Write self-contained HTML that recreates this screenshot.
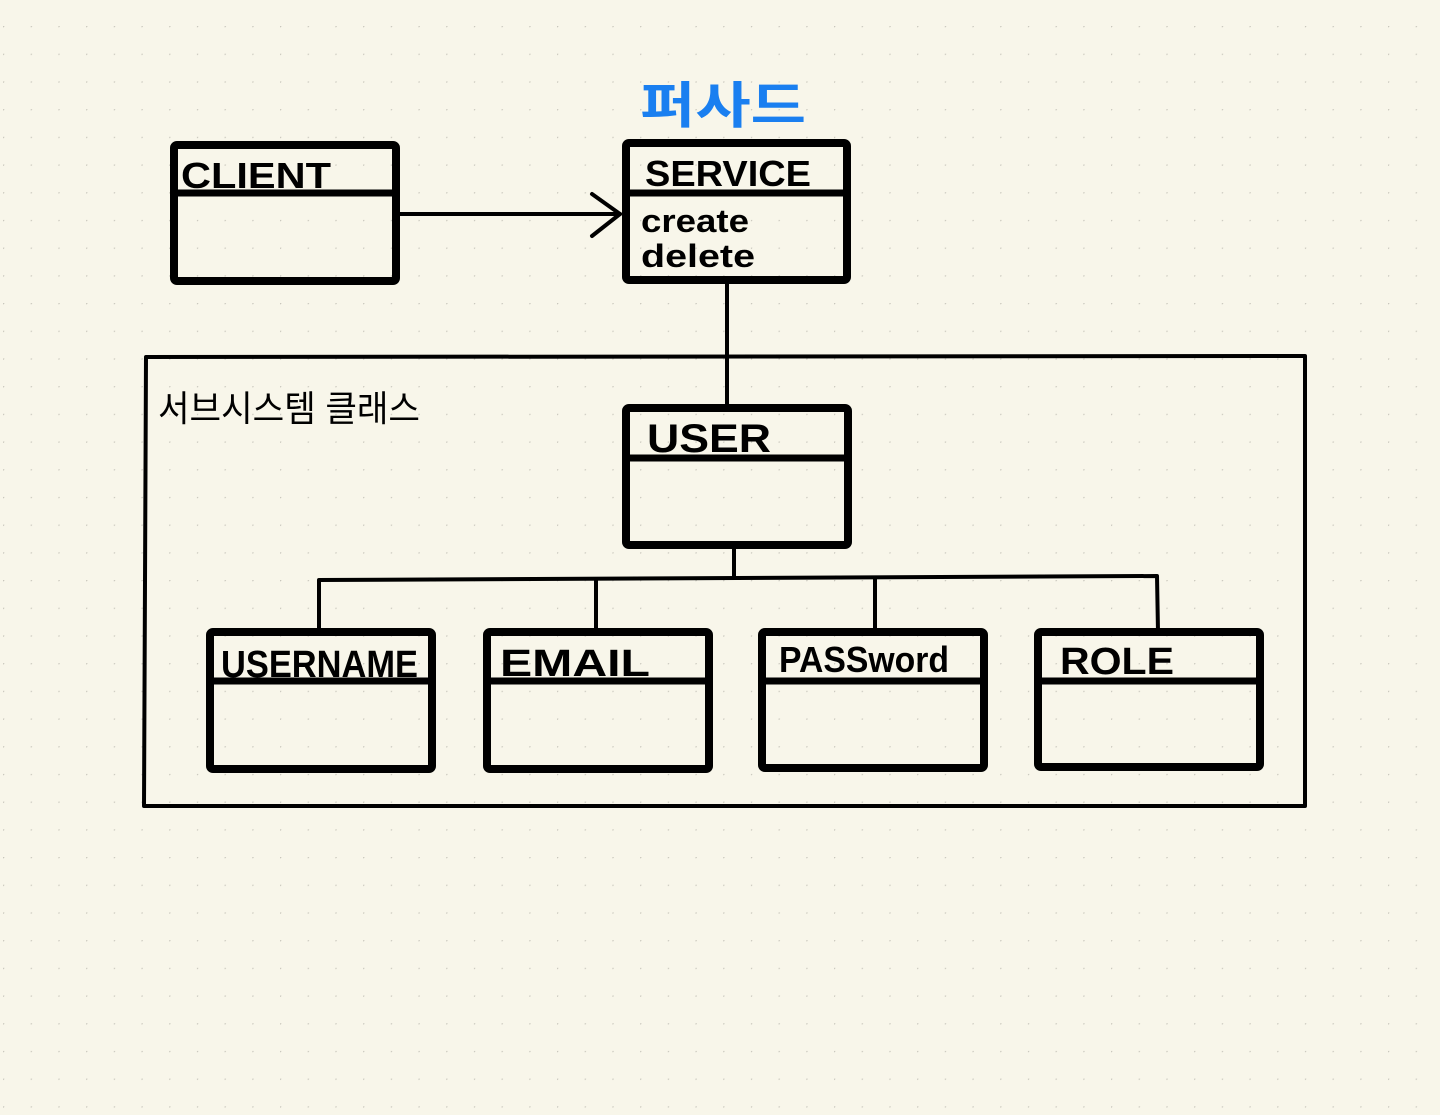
<!DOCTYPE html>
<html><head><meta charset="utf-8"><style>
html,body{margin:0;padding:0;background:#f8f6ea;}
svg{display:block;}
text{font-family:"Liberation Sans","Noto Sans CJK KR",sans-serif;}
</style></head><body>
<svg width="1440" height="1115" viewBox="0 0 1440 1115" xmlns="http://www.w3.org/2000/svg">
<defs>
<pattern id="d" x="3" y="26" width="27.7" height="27.7" patternUnits="userSpaceOnUse">
<circle cx="0" cy="0" r="1.4" fill="#c8c6bc"/>
</pattern>
</defs>
<rect width="1440" height="1115" fill="#f8f6ea"/>
<rect width="1440" height="1115" fill="url(#d)"/>
<g fill="none" stroke="#000" stroke-linejoin="round" stroke-linecap="round">
<!-- client -->
<rect x="174" y="145" width="222" height="136" stroke-width="8" rx="3"/>
<line x1="174" y1="193" x2="396" y2="193" stroke-width="7"/>
<!-- service -->
<rect x="626" y="143" width="221" height="137" stroke-width="8" rx="3"/>
<line x1="626" y1="193" x2="847" y2="193" stroke-width="7"/>
<!-- arrow -->
<line x1="398" y1="214" x2="620" y2="214" stroke-width="4"/>
<polyline points="592,194 620,214 592,236" stroke-width="4"/>
<!-- service to user -->
<line x1="727" y1="282" x2="727" y2="408" stroke-width="4"/>
<!-- container -->
<polyline points="146,357 1305,356 1305,806 144,806 146,357" stroke-width="4"/>
<!-- user -->
<rect x="626" y="408" width="222" height="137" stroke-width="8" rx="3"/>
<line x1="626" y1="458" x2="848" y2="458" stroke-width="7"/>
<!-- tree -->
<line x1="734" y1="547" x2="734" y2="578" stroke-width="4"/>
<polyline points="319,632 319,580 1157,576 1158,632" stroke-width="4"/>
<line x1="596" y1="580" x2="596" y2="632" stroke-width="4"/>
<line x1="875" y1="578" x2="875" y2="632" stroke-width="4"/>
<!-- children -->
<rect x="210" y="632" width="222" height="137" stroke-width="8" rx="3"/>
<line x1="210" y1="681" x2="432" y2="681" stroke-width="7"/>
<rect x="487" y="632" width="222" height="137" stroke-width="8" rx="3"/>
<line x1="487" y1="681" x2="709" y2="681" stroke-width="7"/>
<rect x="762" y="632" width="222" height="136" stroke-width="8" rx="3"/>
<line x1="762" y1="681" x2="984" y2="681" stroke-width="7"/>
<rect x="1038" y="632" width="222" height="135" stroke-width="8" rx="3"/>
<line x1="1038" y1="681" x2="1260" y2="681" stroke-width="7"/>
</g>
<g fill="#000" font-weight="bold">
<text x="181" y="188" font-size="36" textLength="150" lengthAdjust="spacingAndGlyphs">CLIENT</text>
<text x="645" y="186" font-size="36" textLength="166" lengthAdjust="spacingAndGlyphs">SERVICE</text>
<text x="641" y="232" font-size="32" textLength="108" lengthAdjust="spacingAndGlyphs">create</text>
<text x="641" y="267" font-size="32" textLength="114" lengthAdjust="spacingAndGlyphs">delete</text>
<text x="647" y="452" font-size="40" textLength="124" lengthAdjust="spacingAndGlyphs">USER</text>
<text x="221" y="677" font-size="38" textLength="197" lengthAdjust="spacingAndGlyphs">USERNAME</text>
<text x="500" y="676" font-size="38" textLength="150" lengthAdjust="spacingAndGlyphs">EMAIL</text>
<text x="779" y="672" font-size="36" textLength="170" lengthAdjust="spacingAndGlyphs">PASSword</text>
<text x="1060" y="674" font-size="38" textLength="114" lengthAdjust="spacingAndGlyphs">ROLE</text>
<text x="158" y="421" font-size="36" font-weight="normal" textLength="262" lengthAdjust="spacingAndGlyphs">서브시스템 클래스</text>
</g>
<text x="640" y="123" font-size="50" fill="#1a7ff0" font-weight="bold" textLength="166" lengthAdjust="spacingAndGlyphs">퍼사드</text>
</svg>
</body></html>
